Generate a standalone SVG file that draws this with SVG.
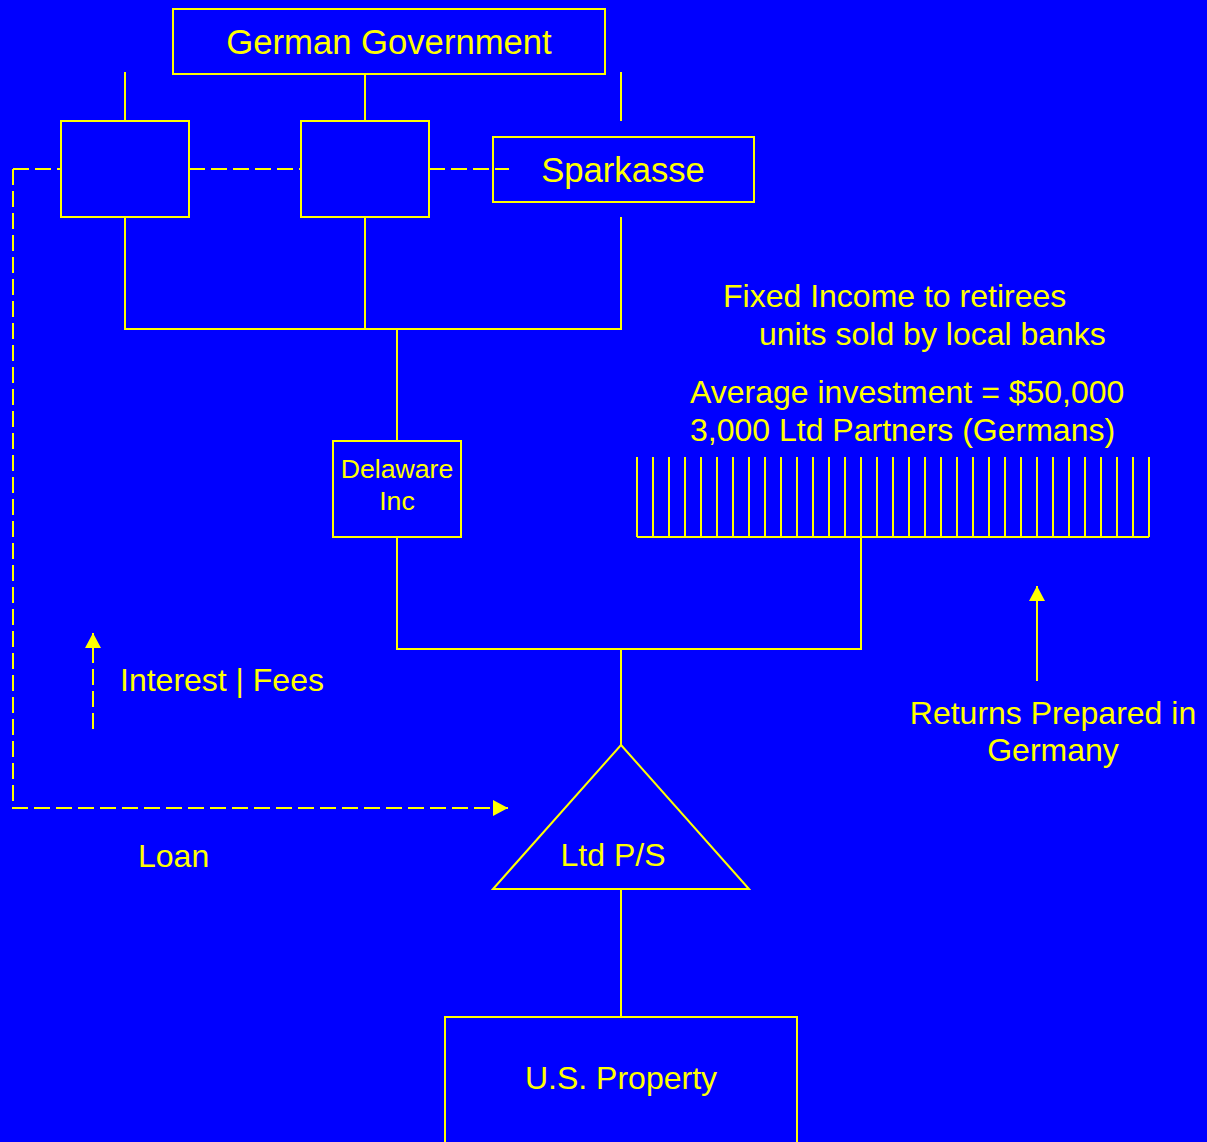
<svg xmlns="http://www.w3.org/2000/svg" width="1207" height="1142" viewBox="0 0 1207 1142">
<style>
.bx{fill:none;stroke:#FFFF00;stroke-width:2}
.ln{fill:none;stroke:#FFFF00;stroke-width:2}
.ds{fill:none;stroke:#FFFF00;stroke-width:2;stroke-dasharray:16 6}
.t{font-family:"Liberation Sans",Arial,sans-serif;fill:#FFFF00;font-size:32px}
.tl{font-size:34.67px}
.ts{font-size:26.67px}
.m{text-anchor:middle}
</style>
<defs>
<marker id="ah" markerUnits="userSpaceOnUse" markerWidth="16" markerHeight="16" refX="15" refY="8" orient="auto" viewBox="0 0 16 16">
<path d="M0,0 L15,8 L0,16 Z" fill="#FFFF00"/>
</marker>
</defs>
<rect width="1207" height="1142" fill="#0000FF"/>
<g id="connectors">
<line class="ln" x1="125" y1="72" x2="125" y2="121"/>
<line class="ln" x1="365" y1="73" x2="365" y2="121"/>
<line class="ln" x1="621" y1="72" x2="621" y2="121"/>
<polyline class="ln" points="125,217 125,329 621,329 621,217"/>
<line class="ln" x1="365" y1="217" x2="365" y2="329"/>
<line class="ln" x1="397" y1="329" x2="397" y2="441"/>
<polyline class="ln" points="397,537 397,649 861,649 861,537"/>
<line class="ln" x1="621" y1="649" x2="621" y2="745"/>
<line class="ln" x1="621" y1="889" x2="621" y2="1017"/>
<line class="ds" x1="13" y1="169" x2="61" y2="169"/>
<line class="ds" x1="189" y1="169" x2="301" y2="169"/>
<line class="ds" x1="429" y1="169" x2="509" y2="169"/>
<polyline class="ds" points="13,169 13,808 508,808" marker-end="url(#ah)"/>
<line class="ds" x1="93" y1="729" x2="93" y2="633" marker-end="url(#ah)"/>
<line class="ln" x1="1037" y1="681" x2="1037" y2="586" marker-end="url(#ah)"/>
</g>
<g id="german-government">
<rect class="bx" x="173" y="9" width="432" height="65"/>
<text class="t tl m" x="389" y="54">German Government</text>
</g>
<g id="box-1"><rect class="bx" x="61" y="121" width="128" height="96"/></g>
<g id="box-2"><rect class="bx" x="301" y="121" width="128" height="96"/></g>
<g id="sparkasse">
<rect class="bx" x="493" y="137" width="261" height="65"/>
<text class="t tl m" x="623" y="182">Sparkasse</text>
</g>
<g id="delaware-inc">
<rect class="bx" x="333" y="441" width="128" height="96"/>
<text class="t ts m" x="397" y="478">Delaware</text>
<text class="t ts m" x="397" y="510">Inc</text>
</g>
<g id="ltd-partners">
<path class="ln" d="M637,537 H1149 M637,457 V537 M653,457 V537 M669,457 V537 M685,457 V537 M701,457 V537 M717,457 V537 M733,457 V537 M749,457 V537 M765,457 V537 M781,457 V537 M797,457 V537 M813,457 V537 M829,457 V537 M845,457 V537 M861,457 V537 M877,457 V537 M893,457 V537 M909,457 V537 M925,457 V537 M941,457 V537 M957,457 V537 M973,457 V537 M989,457 V537 M1005,457 V537 M1021,457 V537 M1037,457 V537 M1053,457 V537 M1069,457 V537 M1085,457 V537 M1101,457 V537 M1117,457 V537 M1133,457 V537 M1149,457 V537"/>
</g>
<g id="ltd-ps">
<polygon class="bx" points="621,745 749,889 493,889"/>
<text class="t m" x="613" y="866">Ltd P/S</text>
</g>
<g id="us-property">
<rect class="bx" x="445" y="1017" width="352" height="140"/>
<text class="t m" x="621" y="1089">U.S. Property</text>
</g>
<g id="labels">
<text class="t" x="723" y="307">Fixed Income to retirees</text>
<text class="t" x="759" y="345">units sold by local banks</text>
<text class="t" x="690" y="403">Average investment = $50,000</text>
<text class="t" x="690" y="441">3,000 Ltd Partners (Germans)</text>
<text class="t" x="120" y="691">Interest | Fees</text>
<text class="t" x="138" y="867">Loan</text>
<text class="t m" x="1053" y="724">Returns Prepared in</text>
<text class="t m" x="1053" y="761">Germany</text>
</g>
</svg>
